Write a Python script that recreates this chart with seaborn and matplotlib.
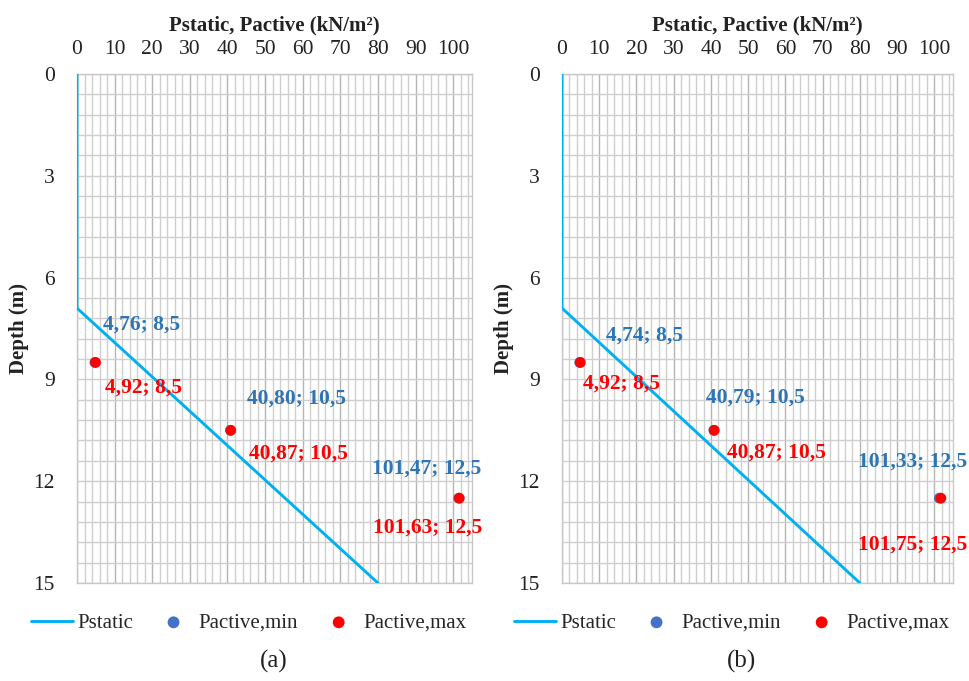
import matplotlib
matplotlib.use("Agg")
import matplotlib.pyplot as plt
import seaborn as sns
import numpy as np

# Pstatic line (pressure vs depth), same for both panels
depth_static = [0, 6.9, 15]
p_static = [0, 0, 80]

# active pressure points
depth_act = [8.5, 10.5, 12.5]
pmin_a = [4.76, 40.80, 101.47]
pmax_a = [4.92, 40.87, 101.63]
pmin_b = [4.74, 40.79, 101.33]
pmax_b = [4.92, 40.87, 101.75]

x_ticks = [0, 10, 20, 30, 40, 50, 60, 70, 80, 90, 100]
y_ticks = [0, 3, 6, 9, 12, 15]

# label offsets in pixels (blue above, red below)
offs_a = {"min": [(8, 38, "left"), (17, 32, "left"), (-32, 30, "center")],
          "max": [(9, -25, "left"), (18, -23, "left"), (-32, -29, "center")]}
offs_b = {"min": [(26, 27, "left"), (-8, 33, "left"), (-27, 37, "center")],
          "max": [(3, -21, "left"), (13, -22, "left"), (-28, -46, "center")]}

sns.set_style("white")
plt.rcParams['font.family'] = ['Liberation Serif', 'DejaVu Serif']

c_line = "#00b0f0"
c_min = "#4472c4"
c_max = "#ff0000"
c_text_min = "#2e75b6"


def lab(v, d):
    return f"{v:.2f}".replace(".", ",") + "; " + f"{d:.1f}".replace(".", ",")


fig = plt.figure(figsize=(9.69, 6.81), dpi=100)
ax_a = fig.add_axes([77 / 969, 1 - 583 / 681, 395 / 969, 509 / 681])
ax_b = fig.add_axes([562 / 969, 1 - 583 / 681, 391 / 969, 509 / 681])

panels = [(ax_a, pmin_a, pmax_a, offs_a, 249 / 969, "(a)", 274 / 969),
          (ax_b, pmin_b, pmax_b, offs_b, 732 / 969, "(b)", 741 / 969)]

for ax, pmin, pmax, offs, legx, cap, capx in panels:
    ax.set_xlim(0, 105)
    ax.set_ylim(15, 0)
    # grid
    ax.set_xticks(np.arange(0, 105, 2), minor=True)
    ax.set_yticks(np.arange(0, 15, 0.6), minor=True)
    ax.grid(which="minor", color="#cfcfcf", lw=1.0)
    ax.grid(which="major", axis="x", color="#b5b5b5", lw=1.0)
    ax.grid(which="major", axis="y", color="#cfcfcf", lw=1.0)
    ax.set_axisbelow(True)
    for s in ax.spines.values():
        s.set_color("#c8c8c8")
        s.set_linewidth(1.0)

    sns.lineplot(x=p_static, y=depth_static, orient="y", estimator=None, sort=False,
                 color=c_line, lw=2.1, ax=ax, label="Pstatic", zorder=3)
    sns.scatterplot(x=pmin, y=depth_act, color=c_min, s=60, edgecolor="none",
                    ax=ax, label="Pactive,min", zorder=4)
    sns.scatterplot(x=pmax, y=depth_act, color=c_max, s=60, edgecolor="none",
                    ax=ax, label="Pactive,max", zorder=5)

    for i in range(3):
        dx, dy, ha = offs["min"][i]
        ax.annotate(lab(pmin[i], depth_act[i]), xy=(pmin[i], depth_act[i]),
                    xytext=(dx, dy), textcoords="offset pixels", ha=ha, va="center",
                    color=c_text_min, fontsize=15.5, fontweight="bold", zorder=6,
                    annotation_clip=False)
        dx, dy, ha = offs["max"][i]
        ax.annotate(lab(pmax[i], depth_act[i]), xy=(pmax[i], depth_act[i]),
                    xytext=(dx, dy), textcoords="offset pixels", ha=ha, va="center",
                    color=c_max, fontsize=15.5, fontweight="bold", zorder=6,
                    annotation_clip=False)

    ax.xaxis.tick_top()
    ax.xaxis.set_label_position("top")
    ax.set_xticks(x_ticks)
    ax.set_yticks(y_ticks)
    ax.tick_params(axis="x", which="both", length=0, pad=11, labelsize=15.5, colors="#222222")
    ax.tick_params(axis="y", which="both", length=0, pad=16, labelsize=15.5, colors="#222222")
    ax.set_xlabel("Pstatic, Pactive (kN/m²)", fontsize=15, fontweight="bold",
                  labelpad=7, color="#222222")
    ax.set_ylabel("Depth (m)", fontsize=15, fontweight="bold", labelpad=3, color="#222222")

    handles, labels = ax.get_legend_handles_labels()
    ax.legend(handles, labels, loc="center", bbox_to_anchor=(legx, 1 - 623 / 681),
              bbox_transform=fig.transFigure, ncol=3, frameon=False, fontsize=15,
              handlelength=2.0, handletextpad=0.2, columnspacing=0.95,
              markerscale=1.1)

    fig.text(capx, 1 - 661 / 681, cap, ha="center", va="center", fontsize=18, color="#222222")

fig.savefig("out.png", dpi=100, facecolor="white")
